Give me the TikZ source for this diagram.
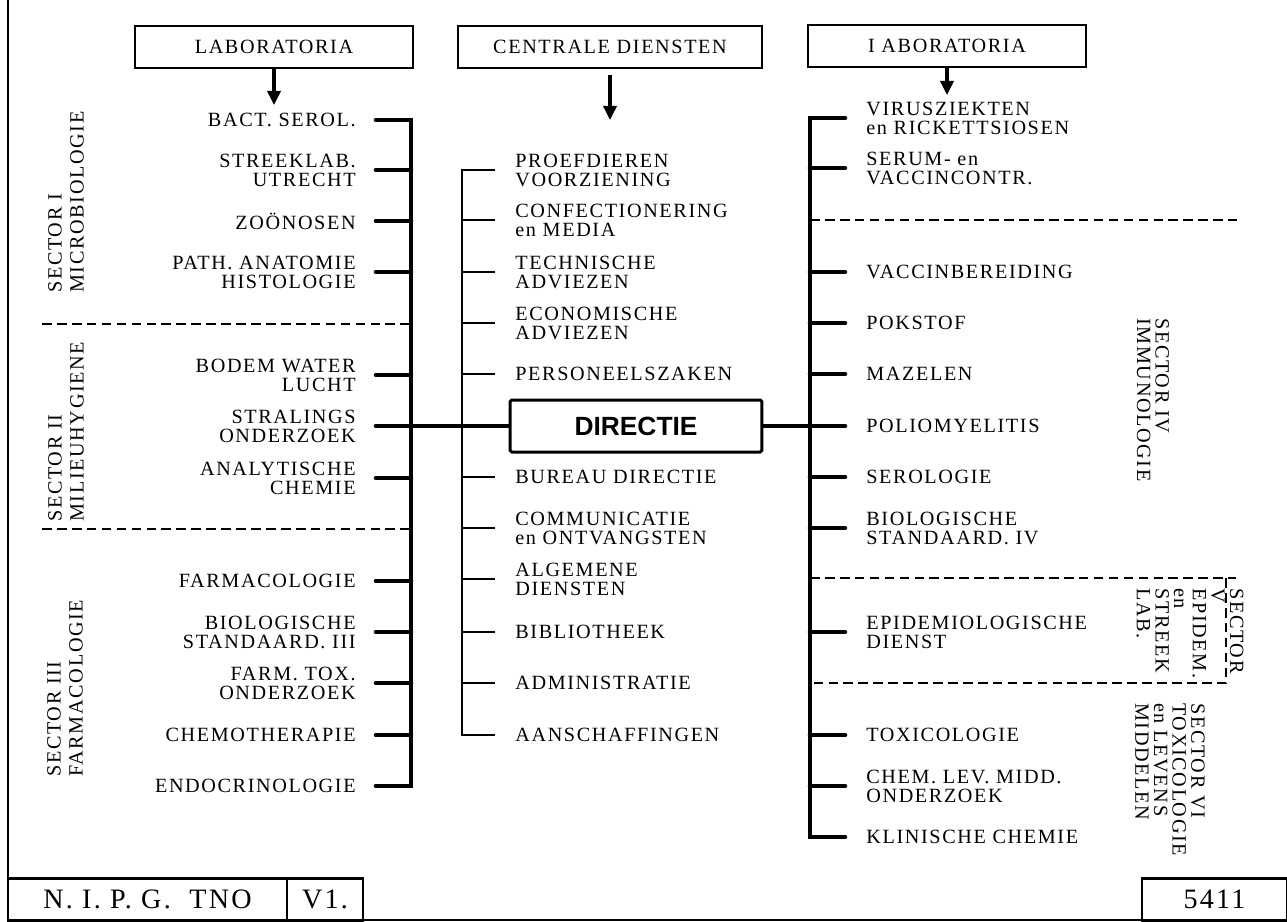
\documentclass[tikz,border=0pt]{standalone}
\usepackage{fontspec}
\setmainfont{Liberation Serif}[LetterSpace=8]
\newfontfamily\dirfont{Liberation Sans}
\usetikzlibrary{arrows.meta}

\tikzset{
  item/.style={inner sep=0pt, font=\fontsize{11.5}{10.8}\selectfont},
  itemL/.style={item, anchor=east, align=right},
  itemR/.style={item, anchor=west, align=left},
  sectorL/.style={inner sep=0pt, rotate=90, anchor=west, align=left, font=\fontsize{11.5}{12.5}\selectfont},
  sectorR/.style={inner sep=0pt, rotate=-90, anchor=west, align=left, font=\fontsize{11.5}{10.6}\selectfont},
  kop/.style={draw, line width=1.4pt, minimum height=0.84cm, inner sep=0pt, font=\fontsize{11.5}{10.8}\selectfont},
  footbox/.style={draw, line width=1.2pt, minimum height=0.84cm, inner sep=0pt, font=\fontsize{16}{16}\selectfont},
  bus/.style={line width=2.6pt, line cap=round},
  cbus/.style={line width=1.5pt},
  sep/.style={line width=1.2pt, dash pattern=on 5.5pt off 3pt},
  pijl/.style={line width=1.8pt, -{Triangle[length=8pt,width=7.5pt]}},
}

\begin{document}
\begin{tikzpicture}[x=0.02cm, y=-0.02cm]

\useasboundingbox (0,0) rectangle (1287,921);

% kader
\draw[line width=1.5pt] (8,0) -- (8,921);
\draw[line width=1pt] (8,920) -- (1287,920);

\coordinate (Lbus) at (411,0);
\coordinate (Cbus) at (462,0);
\coordinate (Rbus) at (810,0);

% koppen
\node (lab1) [kop, minimum width=5.56cm] at (274,47) {LABORATORIA};
\node (cent) [kop, minimum width=6.08cm] at (610,47) {CENTRALE DIENSTEN};
\node (lab2) [kop, minimum width=5.56cm] at (947,46) {I ABORATORIA};

\coordinate (lab1pijl) at (274,105);
\coordinate (centbegin) at (610,75);
\coordinate (centpijl) at (610,120);
\coordinate (lab2pijl) at (947,95);
\draw[pijl] (lab1) -- (lab1pijl);
\draw[pijl] (centbegin) -- (centpijl);
\draw[pijl] (lab2) -- (lab2pijl);

% laboratoria links
\node (bact)    [itemL] at (356,120) {BACT. SEROL.};
\node (streek)  [itemL] at (356,170) {STREEKLAB.\\UTRECHT};
\node (zoon)    [itemL] at (356,221) {ZOÖNOSEN};
\node (path)    [itemL] at (356,272) {PATH. ANATOMIE\\HISTOLOGIE};
\node (bodem)   [itemL] at (356,375) {BODEM WATER\\LUCHT};
\node (stral)   [itemL] at (356,426) {STRALINGS\\ONDERZOEK};
\node (analyt)  [itemL] at (356,478) {ANALYTISCHE\\CHEMIE};
\node (farma)   [itemL] at (356,581) {FARMACOLOGIE};
\node (biostd3) [itemL] at (356,632) {BIOLOGISCHE\\STANDAARD. III};
\node (farmtox) [itemL] at (356,683) {FARM. TOX.\\ONDERZOEK};
\node (chemo)   [itemL] at (356,735) {CHEMOTHERAPIE};
\node (endo)    [itemL] at (356,786) {ENDOCRINOLOGIE};

% centrale diensten
\node (proef)  [itemR] at (515,170) {PROEFDIEREN\\VOORZIENING};
\node (confec) [itemR] at (515,220) {CONFECTIONERING\\en MEDIA};
\node (techn)  [itemR] at (515,272) {TECHNISCHE\\ADVIEZEN};
\node (econ)   [itemR] at (515,323) {ECONOMISCHE\\ADVIEZEN};
\node (pers)   [itemR] at (515,374) {PERSONEELSZAKEN};
\node (bureau) [itemR] at (515,477) {BUREAU DIRECTIE};
\node (comm)   [itemR] at (515,528) {COMMUNICATIE\\en ONTVANGSTEN};
\node (alg)    [itemR] at (515,579) {ALGEMENE\\DIENSTEN};
\node (bib)    [itemR] at (515,632) {BIBLIOTHEEK};
\node (adm)    [itemR] at (515,683) {ADMINISTRATIE};
\node (aansch) [itemR] at (515,735) {AANSCHAFFINGEN};

% laboratoria rechts
\node (virus)   [itemR] at (866,118) {VIRUSZIEKTEN\\en RICKETTSIOSEN};
\node (serum)   [itemR] at (866,168) {SERUM- en\\VACCINCONTR.};
\node (vaccin)  [itemR] at (866,272) {VACCINBEREIDING};
\node (pok)     [itemR] at (866,323) {POKSTOF};
\node (maz)     [itemR] at (866,374) {MAZELEN};
\node (polio)   [itemR] at (866,426) {POLIOMYELITIS};
\node (sero)    [itemR] at (866,477) {SEROLOGIE};
\node (biostd4) [itemR] at (866,528) {BIOLOGISCHE\\STANDAARD. IV};
\node (epid)    [itemR] at (866,632) {EPIDEMIOLOGISCHE\\DIENST};
\node (tox)     [itemR] at (866,735) {TOXICOLOGIE};
\node (chemlev) [itemR] at (866,786) {CHEM. LEV. MIDD.\\ONDERZOEK};
\node (klin)    [itemR] at (866,837) {KLINISCHE CHEMIE};

\node (dir) [draw, line width=1.7pt, rounded corners=1pt, minimum width=5.04cm, minimum height=1.04cm,
  font=\dirfont\bfseries\fontsize{15}{15}\selectfont] at (636,426) {DIRECTIE};

% sectoren
\node (sec1) [sectorL] at (66,293) {SECTOR I\\MICROBIOLOGIE};
\node (sec2) [sectorL] at (66,522) {SECTOR II\\MILIEUHYGIENE};
\node (sec3) [sectorL] at (65,777) {SECTOR III\\FARMACOLOGIE};
\node (sec4) [sectorR] at (1153,318) {SECTOR IV\\IMMUNOLOGIE};
\node (sec5) [sectorR] at (1190,588) {SECTOR\\V\\EPIDEM.\\en\\STREEK\\LAB.};
\node (sec6) [sectorR] at (1170,703) {SECTOR VI\\TOXICOLOGIE\\en LEVENS\\MIDDELEN};

% lijnen links
\draw[bus] ([xshift=0.4cm]bact.east) -- (bact.east -| Lbus) -- (endo.east -| Lbus) -- ([xshift=0.4cm]endo.east);
\draw[bus] ([xshift=0.4cm]streek.east) -- (streek.east -| Lbus)
  ([xshift=0.4cm]zoon.east) -- (zoon.east -| Lbus)
  ([xshift=0.4cm]path.east) -- (path.east -| Lbus)
  ([xshift=0.4cm]bodem.east) -- (bodem.east -| Lbus)
  ([xshift=0.4cm]analyt.east) -- (analyt.east -| Lbus)
  ([xshift=0.4cm]farma.east) -- (farma.east -| Lbus)
  ([xshift=0.4cm]biostd3.east) -- (biostd3.east -| Lbus)
  ([xshift=0.4cm]farmtox.east) -- (farmtox.east -| Lbus)
  ([xshift=0.4cm]chemo.east) -- (chemo.east -| Lbus);

% lijnen midden
\draw[cbus] ([xshift=-0.4cm]proef.west) -- (proef.west -| Cbus) -- (aansch.west -| Cbus) -- ([xshift=-0.4cm]aansch.west);
\draw[cbus] ([xshift=-0.4cm]confec.west) -- (confec.west -| Cbus)
  ([xshift=-0.4cm]techn.west) -- (techn.west -| Cbus)
  ([xshift=-0.4cm]econ.west) -- (econ.west -| Cbus)
  ([xshift=-0.4cm]pers.west) -- (pers.west -| Cbus)
  ([xshift=-0.4cm]bureau.west) -- (bureau.west -| Cbus)
  ([xshift=-0.4cm]comm.west) -- (comm.west -| Cbus)
  ([xshift=-0.4cm]alg.west) -- (alg.west -| Cbus)
  ([xshift=-0.4cm]bib.west) -- (bib.west -| Cbus)
  ([xshift=-0.4cm]adm.west) -- (adm.west -| Cbus);

% lijnen rechts
\draw[bus] ([xshift=-0.42cm]virus.west) -- (virus.west -| Rbus) -- (klin.west -| Rbus) -- ([xshift=-0.42cm]klin.west);
\draw[bus] ([xshift=-0.42cm]serum.west) -- (serum.west -| Rbus)
  ([xshift=-0.42cm]vaccin.west) -- (vaccin.west -| Rbus)
  ([xshift=-0.42cm]pok.west) -- (pok.west -| Rbus)
  ([xshift=-0.42cm]maz.west) -- (maz.west -| Rbus)
  ([xshift=-0.42cm]sero.west) -- (sero.west -| Rbus)
  ([xshift=-0.42cm]biostd4.west) -- (biostd4.west -| Rbus)
  ([xshift=-0.42cm]epid.west) -- (epid.west -| Rbus)
  ([xshift=-0.42cm]tox.west) -- (tox.west -| Rbus)
  ([xshift=-0.42cm]chemlev.west) -- (chemlev.west -| Rbus);

% directie
\draw[bus] ([xshift=0.4cm]stral.east) -- (dir);
\draw[bus] (dir) -- ([xshift=-0.42cm]polio.west);

% sectorgrenzen
\draw[sep] (42,324) -- (411,324);
\draw[sep] (42,529) -- (411,529);
\draw[sep] (810,220) -- (1237,220);
\draw[sep] (810,578) -- (1236,578);
\draw[sep] (1226,578) -- (1226,683) -- (810,683);

% onderrand
\node (nipg) [footbox, minimum width=5.58cm] at (147.5,899.5) {N. I. P. G.\ \ TNO};
\node (vl)   [footbox, minimum width=1.52cm] at (325,899.5) {V1.};
\node (nr)   [footbox, minimum width=2.9cm] at (1214.5,899.5) {5411};

\end{tikzpicture}
\end{document}
